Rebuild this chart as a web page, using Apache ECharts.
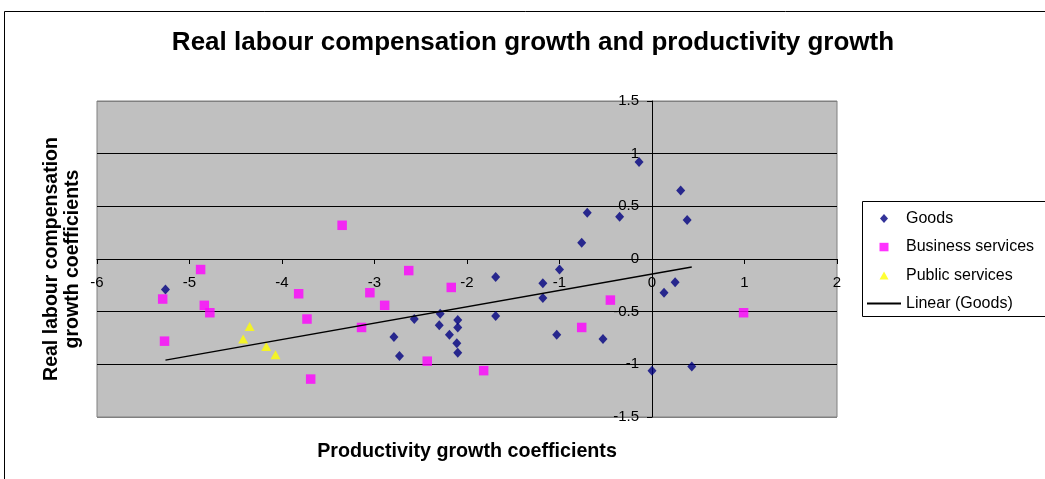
<!DOCTYPE html>
<html>
<head>
<meta charset="utf-8">
<script src="https://cdn.jsdelivr.net/npm/echarts@6/dist/echarts.min.js"></script>
<style>html,body{margin:0;padding:0;background:#fff;}#chart{width:1045px;height:479px;}</style>
</head>
<body>
<div id="chart"></div>
<script>
// Data
var goodsX = [-5.26, -2.79, -2.73, -2.57, -2.29, -2.30, -2.19, -2.10, -2.10, -2.11, -2.10, -1.69, -1.69, -1.18, -1.18, -1.00, -1.03, -0.76, -0.70, -0.35, -0.14, -0.53, 0.00, 0.13, 0.25, 0.31, 0.38, 0.43];
var goodsY = [-0.29, -0.74, -0.92, -0.57, -0.52, -0.63, -0.72, -0.58, -0.65, -0.80, -0.89, -0.17, -0.54, -0.23, -0.37, -0.10, -0.72, 0.155, 0.44, 0.40, 0.92, -0.76, -1.06, -0.32, -0.22, 0.65, 0.37, -1.02];
var businessX = [-5.29, -5.27, -4.88, -4.84, -4.78, -3.82, -3.73, -3.69, -3.35, -3.05, -3.14, -2.89, -2.63, -2.17, -2.43, -1.82, -0.76, -0.45, 0.99];
var businessY = [-0.38, -0.78, -0.10, -0.44, -0.51, -0.33, -0.57, -1.14, 0.32, -0.32, -0.65, -0.44, -0.11, -0.27, -0.97, -1.06, -0.65, -0.39, -0.51];
var publicX = [-4.35, -4.42, -4.17, -4.07];
var publicY = [-0.64, -0.76, -0.83, -0.91];
var trendX = [-5.26, 0.43];
var trendY = [-0.96, -0.075];
var xTicks = {min: -6, max: 2, interval: 1};
var yTicks = {min: -1.5, max: 1.5, interval: 0.5};

function pairs(xs, ys) { return xs.map(function (x, i) { return [x, ys[i]]; }); }

var FONT = '"Liberation Sans", Arial, sans-serif';
var GRID = {left: 97, top: 101, width: 740, height: 316};
var chart = echarts.init(document.getElementById('chart'), null, {renderer: 'canvas'});

// place each axis where the other axis is zero
var xZeroPx = GRID.left + (0 - xTicks.min) / (xTicks.max - xTicks.min) * GRID.width;
var yZeroPx = GRID.top + (yTicks.max - 0) / (yTicks.max - yTicks.min) * GRID.height;

// legend icons drawn inside a 34x9 box (bounding moves keep the small marker centered)
var ICON_DIAMOND = 'path://M0,0M34,9M13,4.5L17,0L21,4.5L17,9Z';
var ICON_SQUARE = 'path://M0,0M34,9M12.5,0.5L21.5,0.5L21.5,9L12.5,9Z';
var ICON_TRIANGLE = 'path://M0,0M34,9M17,1L21.5,9L12.5,9Z';

chart.setOption({
  animation: false,
  backgroundColor: '#ffffff',
  title: [{
    text: 'Real labour compensation growth and productivity growth',
    left: 533, top: 30, textAlign: 'center', padding: 0,
    textStyle: {fontFamily: FONT, fontWeight: 'bold', fontSize: 26, color: '#000'}
  }, {
    text: 'Productivity growth coefficients',
    left: 467, top: 442, textAlign: 'center', padding: 0,
    textStyle: {fontFamily: FONT, fontWeight: 'bold', fontSize: 19.7, color: '#000'}
  }],
  graphic: [{
    type: 'rect', silent: true, z: -1,
    shape: {x: 4.5, y: 11.5, width: 1200, height: 600},
    style: {fill: null, stroke: '#000', lineWidth: 1}
  }, {
    type: 'rect', silent: true, z: -1,
    shape: {x: 862.5, y: 201.5, width: 300, height: 115},
    style: {fill: '#fff', stroke: '#000', lineWidth: 1}
  }, {
    type: 'text', silent: true,
    x: 62.5, y: 259, rotation: Math.PI / 2,
    style: {
      text: 'Real labour compensation\ngrowth coefficients',
      font: 'bold 19.5px ' + FONT, fill: '#000',
      align: 'center', verticalAlign: 'middle', lineHeight: 21
    }
  }],
  legend: {
    orient: 'vertical', left: 866, top: 209.5, padding: 0,
    itemWidth: 34, itemHeight: 9, itemGap: 10.3,
    textStyle: {fontFamily: FONT, fontSize: 16, color: '#000', lineHeight: 18},
    data: [
      {name: 'Goods', icon: ICON_DIAMOND},
      {name: 'Business services', icon: ICON_SQUARE},
      {name: 'Public services', icon: ICON_TRIANGLE},
      {name: 'Linear (Goods)', itemStyle: {opacity: 0}}
    ]
  },
  grid: {
    left: GRID.left, top: GRID.top, width: GRID.width, height: GRID.height,
    show: true, backgroundColor: '#C0C0C0', borderColor: '#808080', borderWidth: 1
  },
  xAxis: {
    type: 'value', min: xTicks.min, max: xTicks.max, interval: xTicks.interval,
    position: 'bottom', offset: -(GRID.top + GRID.height - yZeroPx),
    axisLine: {show: true, onZero: false, lineStyle: {color: '#000', width: 1}},
    axisTick: {show: true, length: 5, lineStyle: {color: '#000'}},
    axisLabel: {fontFamily: FONT, fontSize: 15, color: '#000', margin: 16},
    splitLine: {show: false}
  },
  yAxis: {
    type: 'value', min: yTicks.min, max: yTicks.max, interval: yTicks.interval,
    position: 'left', offset: -(xZeroPx - GRID.left),
    axisLine: {show: true, onZero: false, lineStyle: {color: '#000', width: 1}},
    axisTick: {show: true, length: 5, lineStyle: {color: '#000'}},
    axisLabel: {fontFamily: FONT, fontSize: 15, color: '#000', margin: 13},
    splitLine: {show: true, lineStyle: {color: ['#808080', '#000', '#000', '#000', '#000', '#000'], width: 1}}
  },
  series: [{
    name: 'Goods', type: 'scatter', symbol: 'diamond', symbolSize: [9, 10],
    itemStyle: {color: '#000080'}, data: pairs(goodsX, goodsY), z: 3
  }, {
    name: 'Business services', type: 'scatter', symbol: 'rect', symbolSize: 9.5,
    itemStyle: {color: '#FF00FF'}, data: pairs(businessX, businessY), z: 3
  }, {
    name: 'Public services', type: 'scatter', symbol: 'triangle', symbolSize: [10, 9],
    itemStyle: {color: '#FFFF00'}, data: pairs(publicX, publicY), z: 3
  }, {
    name: 'Linear (Goods)', type: 'line', symbol: 'none', showSymbol: false,
    lineStyle: {color: '#000', width: 1.5}, itemStyle: {color: '#000'},
    data: pairs(trendX, trendY), z: 4
  }]
});
</script>
</body>
</html>
